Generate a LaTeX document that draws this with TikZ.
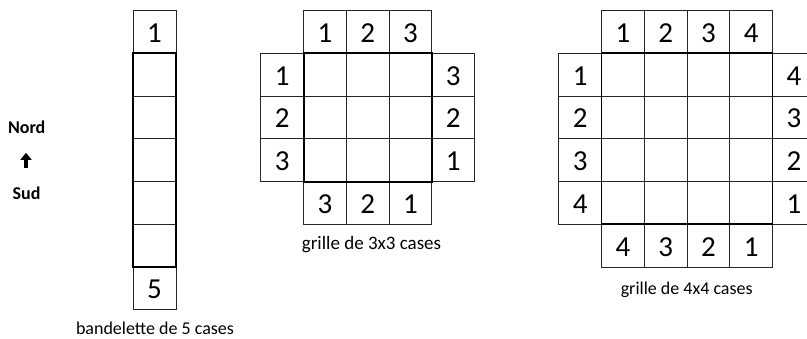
\documentclass[tikz,border=0pt]{standalone}
\usepackage{fontspec}
\setmainfont{Carlito}
\usetikzlibrary{arrows.meta}
\begin{document}
\begin{tikzpicture}[x=1pt,y=-1pt,
  cell/.style={draw=black!85, line width=0.9pt, minimum size=42.75pt, inner sep=0pt, outer sep=0pt,
    anchor=north west, font=\fontsize{29}{29}\selectfont, text height=20.6pt, text depth=0pt},
  border/.style={draw=black, line width=1.8pt},
  caption/.style={font=\fontsize{18}{18}\selectfont, anchor=base},
  compass/.style={font=\bfseries\fontsize{18}{18}\selectfont, anchor=base}]
\useasboundingbox (0,0) rectangle (807,338);
\fill[white] (0,0) rectangle (807,338);
% ---- strip of 5 cells
\node[cell] (sN) at (133.2,10.6) {1};
\foreach \i in {1,...,5} {\node[cell] (s\i) at (133.2,{10.6+\i*42.75}) {};}
\node[cell] (sS) at (133.2,{10.6+6*42.75}) {5};
\draw[border] (s1.north west) rectangle (s5.south east);
% ---- 3x3 grid
\foreach \r in {1,2,3} {\foreach \c in {1,2,3} {\node[cell] (a\r\c) at ({303.6+(\c-1)*42.75},{53.35+(\r-1)*42.75}) {};}}
\foreach \c/\t in {1/1,2/2,3/3} {\node[cell] (at\c) at ({303.6+(\c-1)*42.75},10.6) {\t};}
\foreach \c/\t in {1/3,2/2,3/1} {\node[cell] (ab\c) at ({303.6+(\c-1)*42.75},{53.35+3*42.75}) {\t};}
\foreach \r/\t in {1/1,2/2,3/3} {\node[cell] (al\r) at ({303.6-42.75},{53.35+(\r-1)*42.75}) {\t};}
\foreach \r/\t in {1/3,2/2,3/1} {\node[cell] (ar\r) at ({303.6+3*42.75},{53.35+(\r-1)*42.75}) {\t};}
\draw[border] (a11.north west) rectangle (a33.south east);
% ---- 4x4 grid
\foreach \r in {1,2,3,4} {\foreach \c in {1,2,3,4} {\node[cell] (b\r\c) at ({601.5+(\c-1)*42.75},{53.35+(\r-1)*42.75}) {};}}
\foreach \c/\t in {1/1,2/2,3/3,4/4} {\node[cell] (bt\c) at ({601.5+(\c-1)*42.75},10.6) {\t};}
\foreach \c/\t in {1/4,2/3,3/2,4/1} {\node[cell] (bb\c) at ({601.5+(\c-1)*42.75},{53.35+4*42.75}) {\t};}
\foreach \r/\t in {1/1,2/2,3/3,4/4} {\node[cell] (bl\r) at ({601.5-42.75},{53.35+(\r-1)*42.75}) {\t};}
\foreach \r/\t in {1/4,2/3,3/2,4/1} {\node[cell] (br\r) at ({601.5+4*42.75},{53.35+(\r-1)*42.75}) {\t};}
\draw[border] (b11.north west) rectangle (b44.south east);
% ---- compass
\node[compass] (nord) at (26.7,133.3) {Nord};
\node[compass] (sud) at (26.5,199.3) {Sud};
\coordinate (arrS) at (26,168);
\coordinate (arrN) at (26,152.8);
\draw[line width=3.4pt, -{Triangle[width=11pt,length=7pt]}] (arrS) -- (arrN);
% ---- captions
\node[caption, text depth=0pt, inner sep=1pt] (capS) at (155,334.5) {bandelette de 5 cases};
\node[caption, font=\fontsize{19}{19}\selectfont] (cap3) at (371.5,249.3) {grille de 3x3 cases};
\node[caption] (cap4) at (686.7,294.3) {grille de 4x4 cases};
\end{tikzpicture}
\end{document}
